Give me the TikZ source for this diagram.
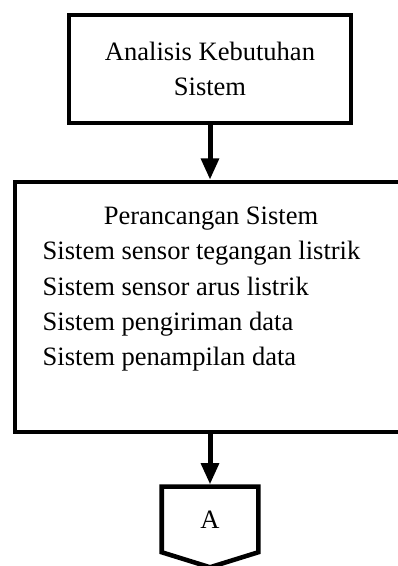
\documentclass[tikz,border=0pt]{standalone}
\usepackage{fontspec}
\setmainfont{Liberation Serif}
\usetikzlibrary{arrows.meta}

\begin{document}
\begin{tikzpicture}[x=0.75pt,y=0.75pt,
    stepbox/.style={draw,line width=3.4pt,inner sep=0pt},
    flow/.style={line width=3.75pt,-{Triangle[length=16pt,width=13pt]}},
    txt/.style={font=\fontsize{19.9pt}{26.4pt}\selectfont}]
  \useasboundingbox (0,0) rectangle (398,566);
  \clip (0,0) rectangle (398,566);
  \node[stepbox,txt,align=center,minimum width=211.5pt,minimum height=81pt]
    (analysis) at (210,497) {Analisis Kebutuhan\\Sistem};
  \node[stepbox,minimum width=300pt,minimum height=187.5pt] (design) at (215,259) {};
    \node[txt,anchor=base] (designtitle) at (211,341) {Perancangan Sistem};
    \foreach \ly/\lt/\ln in {306/Sistem sensor tegangan listrik/a,
                             270/Sistem sensor arus listrik/b,
                             235/Sistem pengiriman data/c,
                             200/Sistem penampilan data/d} {
      \node[txt,anchor=base west] (design\ln) at (38,\ly) {\lt};}
  \node[minimum width=72pt,minimum height=48.75pt,inner sep=0pt] (offpage) at (210,46.5) {};
    \draw[line width=3.4pt] (offpage.south west) -- (offpage.north west) -- (offpage.north east)
      -- (offpage.south east) -- ([yshift=-11.25pt]offpage.south) -- cycle;
    \node[txt] (offlabel) at (offpage.center) {A};
  \draw[flow] (analysis.south) -- (analysis.south |- design.north);
  \draw[flow] (offpage.north |- design.south) -- ([yshift=1.7pt]offpage.north);
\end{tikzpicture}
\end{document}
